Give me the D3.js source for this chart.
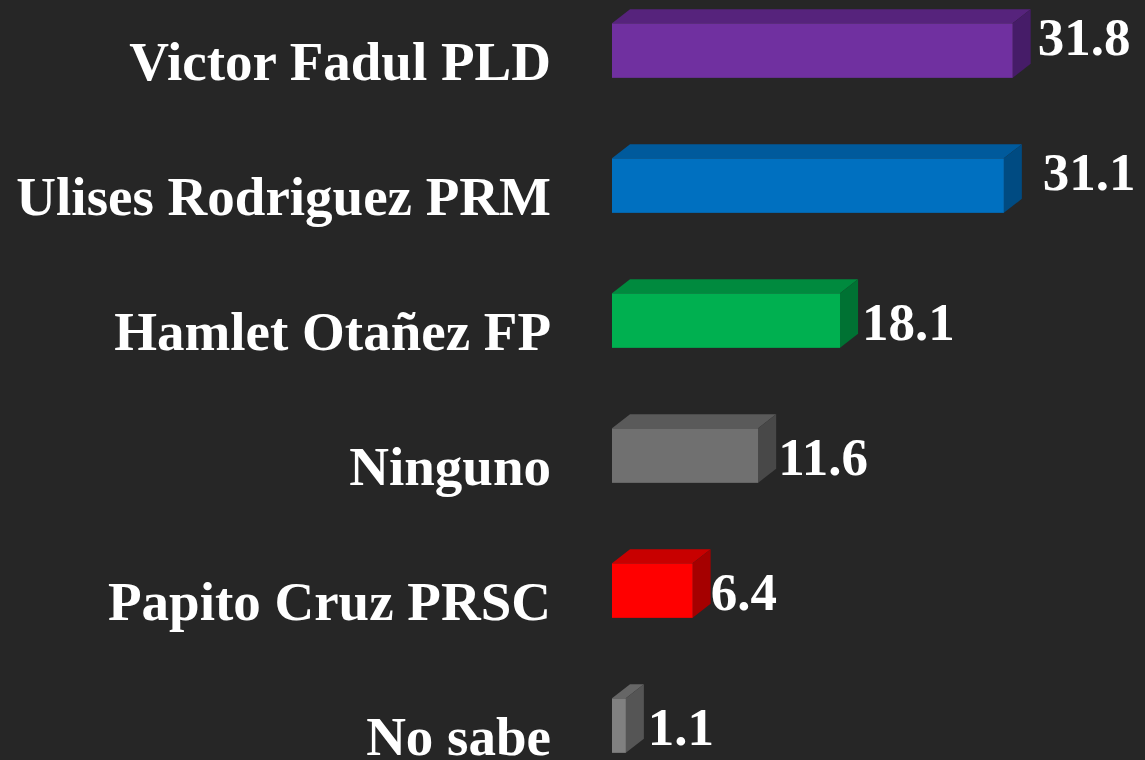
<!DOCTYPE html>
<html>
<head>
<meta charset="utf-8">
<script src="https://cdn.jsdelivr.net/npm/d3@7/dist/d3.min.js"></script>
<style>
  html, body { margin: 0; padding: 0; background: #262626; }
  svg { display: block; }
</style>
</head>
<body>
<svg id="chart" width="1145" height="760"></svg>
<script>
// ---- data ----
const categories = ["Victor Fadul PLD", "Ulises Rodriguez PRM", "Hamlet Otañez FP", "Ninguno", "Papito Cruz PRSC", "No sabe"];
const values = [31.8, 31.1, 18.1, 11.6, 6.4, 1.1];
const valueLabels = ["31.8", "31.1", "18.1", "11.6", "6.4", "1.1"];

// ---- styles / layout ----
const frontColors = ["#7030A0", "#0070C0", "#00B050", "#707070", "#FF0000", "#808080"];
const topColors   = ["#56237C", "#005A9C", "#008A3E", "#5A5A5A", "#C80000", "#666666"];
const sideColors  = ["#461C68", "#004B82", "#007233", "#484848", "#A50000", "#555555"];
// manual nudges of the value labels (dx, dy), as in the original
const labelNudge = [[7, -15], [21, -15], [4, 0], [2, 0], [0, 0], [4, 0]];

const W = 1145, H = 760;
const svg = d3.select("#chart");
svg.append("rect").attr("width", W).attr("height", H).attr("fill", "#262626");

const x = d3.scaleLinear().domain([0, 10]).range([612, 738]);
const y = d3.scalePoint().domain(categories).range([50.6, 725.6]);
const barH = 54.5, dx = 18, dy = 14;

const g = svg.append("g");
const rows = g.selectAll("g.row").data(categories).join("g").attr("class", "row");

rows.each(function(c, i) {
  const sel = d3.select(this);
  const x0 = x(0), x1 = x(values[i]);
  const y0 = y(c) - barH / 2, y1 = y(c) + barH / 2;
  // top face
  sel.append("polygon")
    .attr("points", [[x0, y0], [x0 + dx, y0 - dy], [x1 + dx, y0 - dy], [x1, y0]].map(p => p.join(",")).join(" "))
    .attr("fill", topColors[i]);
  // side face
  sel.append("polygon")
    .attr("points", [[x1, y0], [x1 + dx, y0 - dy], [x1 + dx, y1 - dy], [x1, y1]].map(p => p.join(",")).join(" "))
    .attr("fill", sideColors[i]);
  // front face
  sel.append("rect")
    .attr("x", x0).attr("y", y0)
    .attr("width", x1 - x0).attr("height", barH)
    .attr("fill", frontColors[i]);
  // value label
  sel.append("text")
    .attr("x", x1 + dx + labelNudge[i][0])
    .attr("y", y(c) + 19.5 + labelNudge[i][1])
    .attr("font-family", "'Liberation Serif', 'DejaVu Serif', serif")
    .attr("font-weight", "bold")
    .attr("font-size", 53)
    .attr("fill", "#ffffff")
    .text(valueLabels[i]);
  // category label
  sel.append("text")
    .attr("x", 551)
    .attr("y", y(c) + 29.4)
    .attr("text-anchor", "end")
    .attr("font-family", "'Liberation Serif', 'DejaVu Serif', serif")
    .attr("font-weight", "bold")
    .attr("font-size", 55)
    .attr("fill", "#ffffff")
    .text(c);
});
</script>
</body>
</html>
